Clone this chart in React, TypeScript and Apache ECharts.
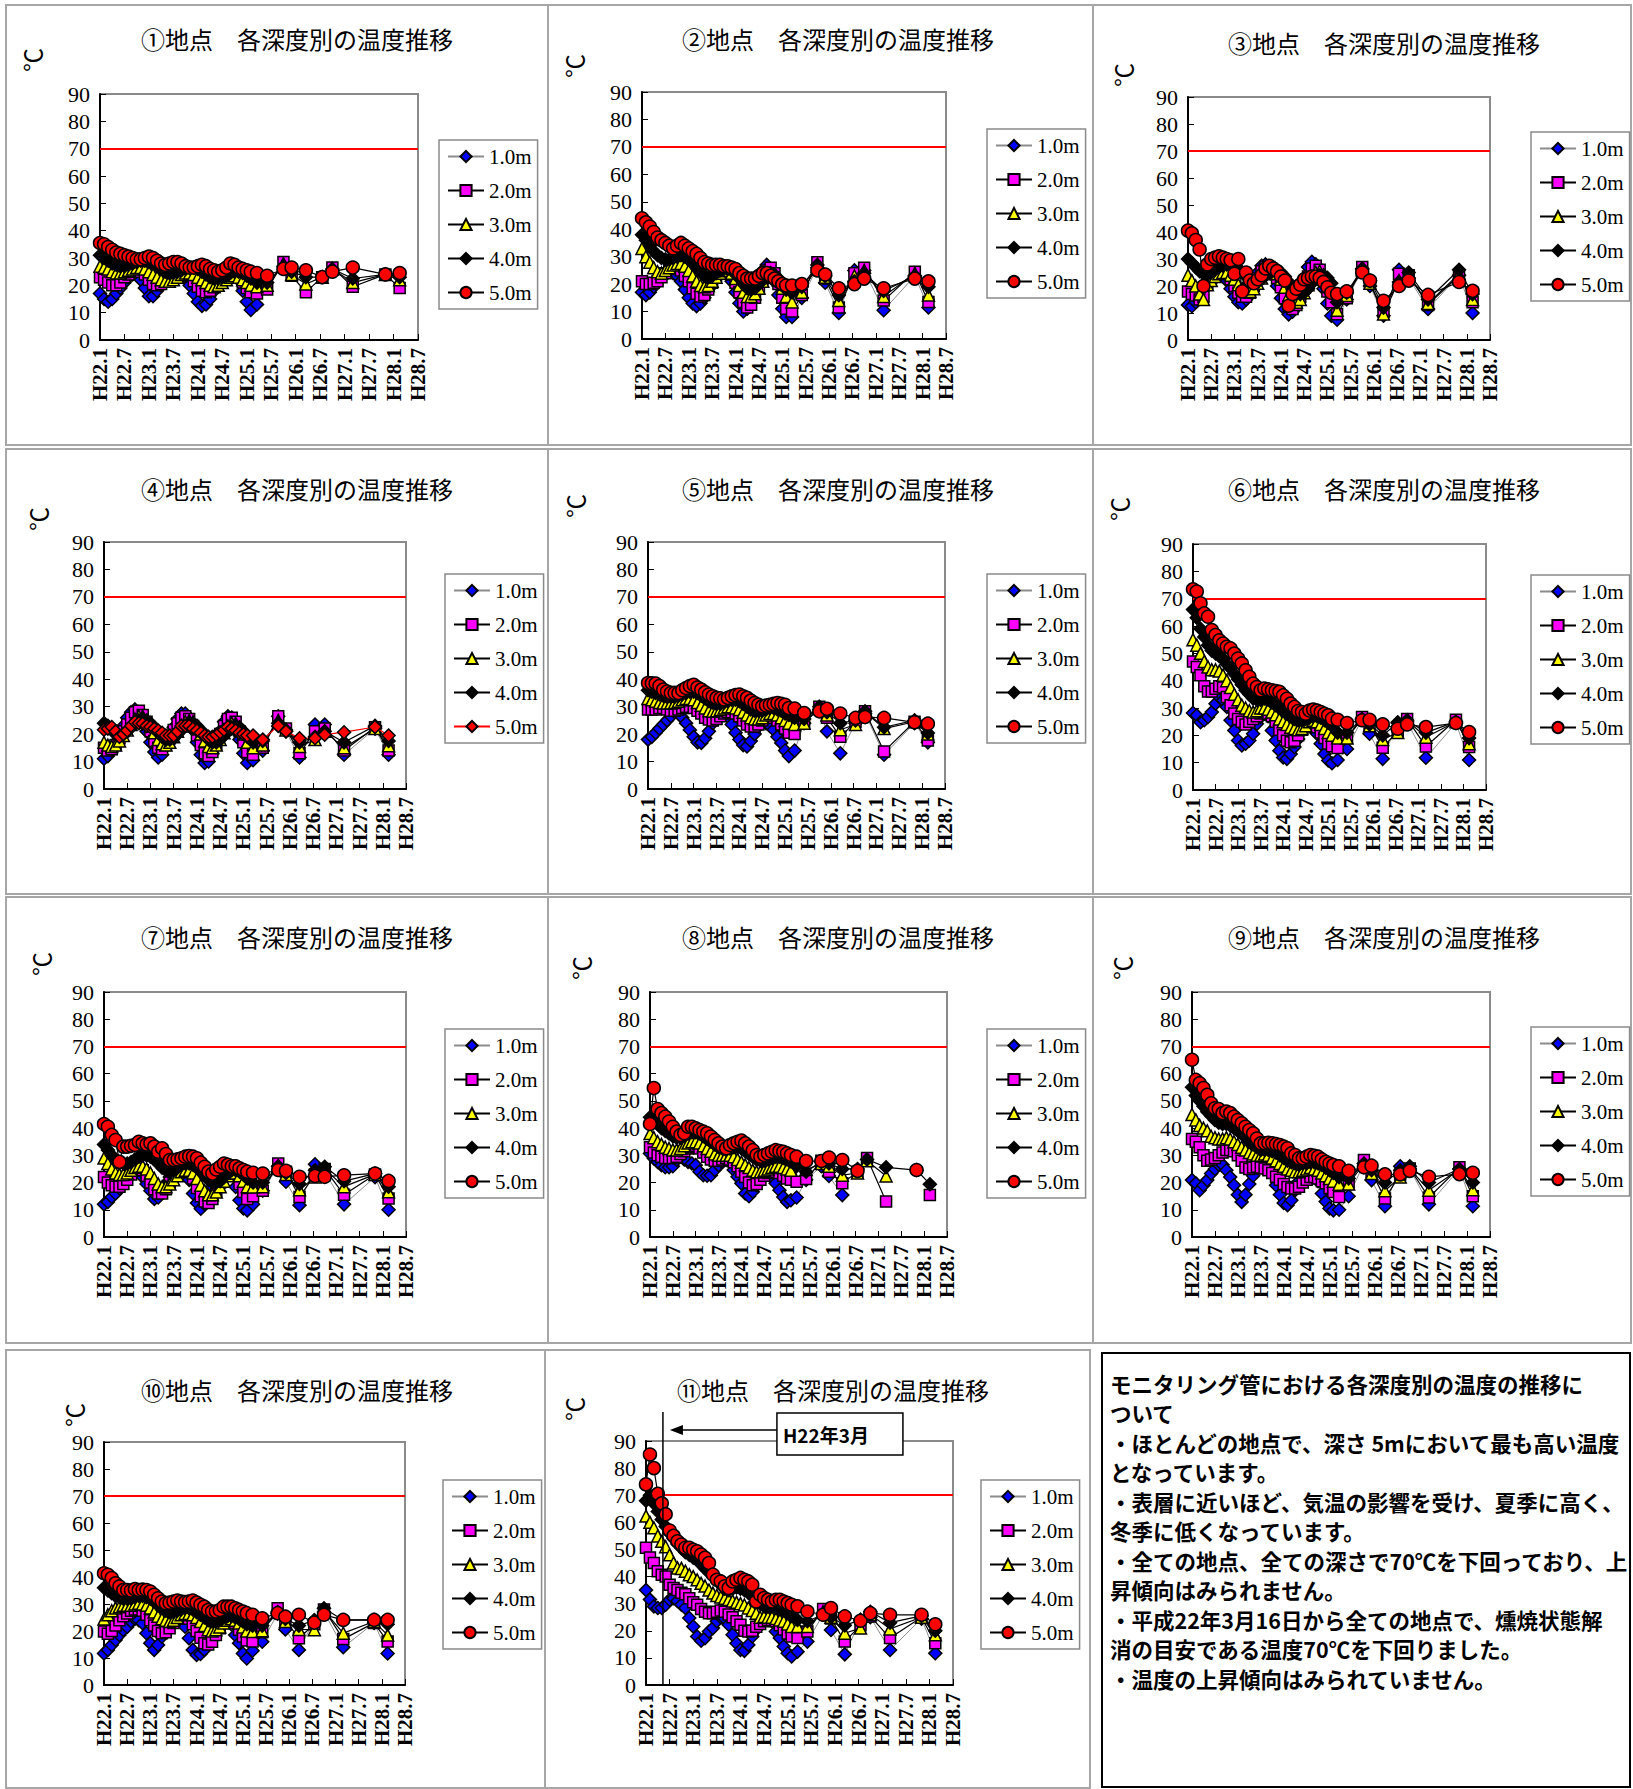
import React, { useEffect, useRef } from 'react';
import * as echarts from 'echarts';

const PAGE_W = 1633;
const PAGE_H = 1789;

const DEPTHS = ['1.0m', '2.0m', '3.0m', '4.0m', '5.0m'];
const X_TICK_LABELS = ['H22.1', 'H22.7', 'H23.1', 'H23.7', 'H24.1', 'H24.7', 'H25.1', 'H25.7', 'H26.1', 'H26.7', 'H27.1', 'H27.7', 'H28.1', 'H28.7'];
const X_TICK_STEP = 6;
const X_MAX = 78;
const Y_MAX = 90;
const Y_STEP = 10;
const THRESHOLD = 70;

// months after H22.1
const MONTHS_DENSE = [0, 1, 2, 3, 4, 5, 6, 7, 8, 9, 10, 11, 12, 13, 14, 15, 16, 17, 18, 19, 20, 21, 22, 23, 24, 25, 26, 27, 28, 29, 30, 31, 32, 33, 34, 35, 36, 37];
const MONTHS_SPARSE = [38.5, 41, 45, 47, 50.5, 54.5, 57, 62, 70, 73.5];

const PANEL_TITLES = [
  '①地点　各深度別の温度推移', '②地点　各深度別の温度推移', '③地点　各深度別の温度推移',
  '④地点　各深度別の温度推移', '⑤地点　各深度別の温度推移', '⑥地点　各深度別の温度推移',
  '⑦地点　各深度別の温度推移', '⑧地点　各深度別の温度推移', '⑨地点　各深度別の温度推移',
  '⑩地点　各深度別の温度推移', '⑪地点　各深度別の温度推移',
];
const UNIT_LABEL = '℃';
const ANNOTATION_MONTH = 4.3;
const ANNOTATION_TEXT = 'H22年3月';
const NOTE_LINES = [
  'モニタリング管における各深度別の温度の推移に',
  'ついて',
  '・ほとんどの地点で、深さ 5mにおいて最も高い温度',
  'となっています。',
  '・表層に近いほど、気温の影響を受け、夏季に高く、',
  '冬季に低くなっています。',
  '・全ての地点、全ての深さで70℃を下回っており、上',
  '昇傾向はみられません。',
  '・平成22年3月16日から全ての地点で、燻焼状態解',
  '消の目安である温度70℃を下回りました。',
  '・温度の上昇傾向はみられていません。',
];

// each panel: [1.0m, 2.0m, 3.0m, 4.0m, 5.0m]
const P01_DENSE = [
  [17, 15, 14, 15, 17, 19, 21, 23, 24, 24, 22, 19, 16, 16, 18, 20, 22, 24, 25, 26, 25, 23, 20, 17, 14, 12.5, 13, 15, 18, 21, 24, 26, 27, 25, 22, 18, 14, 11],
  [23, 22, 21, 20, 20, 21, 23, 24, 25, 25.5, 25, 24, 22, 20.5, 20, 20.5, 22, 23.5, 25, 26, 26, 25, 23.5, 21.5, 19.5, 18, 17.5, 18, 19.5, 21.5, 23, 24.5, 25, 24.5, 23, 21, 19, 17.5],
  [27, 26.5, 26, 25, 24.5, 24.5, 25, 25.5, 26, 26.5, 26.5, 26, 25, 24, 23, 22, 21.5, 21.5, 22, 23, 24, 24.5, 24.5, 24, 23, 22, 21, 20, 19.5, 20, 21, 22, 23, 23.5, 23, 22, 21, 20],
  [31, 30, 29, 28, 27.5, 27, 27, 27.5, 28, 28.5, 29, 29, 28.5, 28, 27, 26, 25, 24.5, 24.5, 25, 25.5, 26, 26.5, 26.5, 26, 25, 24, 23, 22.5, 22.5, 23, 23.5, 24.5, 25, 25, 24.5, 23.5, 22.5],
  [35.5, 35, 34, 33, 32, 31.5, 31, 30.5, 30, 29.5, 29.5, 30, 30.5, 30, 29, 28, 27.5, 28, 28.5, 28.5, 28, 27, 26.5, 26.5, 27, 27.5, 27, 26, 25.5, 25, 25.5, 26.5, 28, 27.5, 26.5, 26, 25.5, 25],
];
const P01_SPARSE = [
  [13, null, null, null, null, null, null, null, null, null],
  [17, 18.5, 28.5, 23.5, 17.5, 23, 26.5, 19.5, 24, 19],
  [19.5, 20, 28, 24, 20.5, 23, 26, 21, 24, 22],
  [21, 21, 27, 25, 23, 23, 26, 22.5, 24, 23],
  [24.5, 23.5, 26, 26.5, 25.5, 23, 25, 26.5, 24, 24.5],
];

const P02_DENSE = [
  [17, 16, 17, 19, 21, 23, 24, 24.5, 24, 23, 21, 18, 15, 13, 12, 13, 15, 18, 21, 24, 26, 26, 24, 21, 17, 13, 10, 11, 14, 18, 22, 25, 27, 25, 21, 16, 11, 8],
  [21, 20, 20, 20.5, 21, 22.5, 24, 25.5, 26, 26, 25, 23, 21, 18.5, 16.5, 15.5, 16, 18, 20.5, 23, 25, 26, 25.5, 23.5, 20.5, 17, 13.5, 11.5, 12.5, 15, 18.5, 22, 25, 26, 24, 20, 15, 11],
  [33, 30, 28, 26, 24.5, 24, 25, 26, 27, 27.5, 27.5, 26.5, 25, 23, 21, 19.5, 19, 19.5, 21, 22.5, 24, 25, 25, 24, 22, 19.5, 17, 15.5, 15.5, 16.5, 18.5, 21, 23, 24, 23.5, 21.5, 18.5, 15.5],
  [38, 36, 34, 32, 30.5, 29.5, 29, 29, 29.5, 30, 30.5, 30, 29, 27.5, 26, 24.5, 23, 22.5, 23, 24, 25, 25.5, 25.5, 25, 24, 22, 20, 18.5, 18, 18.5, 20, 22, 23.5, 24, 23.5, 22, 20, 18],
  [44, 42.5, 41, 39, 37, 36, 35, 34, 33, 34, 35, 34, 33, 32, 31, 29.5, 28, 27.5, 27, 27, 27, 26.5, 26.5, 26, 25.5, 24, 23, 22, 22, 22, 23, 24, 24, 23, 22, 21, 20, 19.5],
];
const P02_SPARSE = [
  [8, 15, 26, 20.5, 9.5, 25, 25, 10.5, 23, 11.5],
  [10, 16, 28, 22, 11.5, 24, 26, 14, 24.5, 13.5],
  [13.5, 17, 26.5, 22.5, 14, 23, 25, 15.5, 24, 16],
  [17, 19, 27, 23, 16, 21, 24, 17.5, 23, 19],
  [19.5, 20, 25, 23.5, 18.5, 20, 22, 18.5, 22, 21],
];

const P03_DENSE = [
  [13, 12.5, 14, 16.5, 19.5, 22, 24.5, 26, 26, 25, 22, 19, 16, 14, 13.5, 15, 18, 21.5, 25, 27.5, 28, 27, 24, 20, 15.5, 11.5, 9.5, 10.5, 14, 18.5, 23, 27, 29, 28, 24.5, 19, 13.5, 9],
  [18, 17, 16.5, 15, 16, 21, 23, 24.5, 25.5, 25.5, 24.5, 22.5, 20, 17.5, 16, 16, 17.5, 20, 23, 25.5, 27, 27, 25.5, 23, 19.5, 15.5, 12.5, 11.5, 13, 16, 20, 23.5, 26.5, 27.5, 26, 22.5, 18, 14],
  [24, 22, 20, 17, 15, 20.5, 22, 23.5, 24.5, 25, 25, 24, 22.5, 20.5, 19, 18, 18, 19, 21, 23, 24.5, 25.5, 25.5, 24.5, 22.5, 19.5, 16.5, 14.5, 14, 15, 17.5, 20.5, 23.5, 25, 25.5, 24, 21.5, 18],
  [30, 28.5, 27, 25.5, 24.5, 24.5, 25, 26, 27, 27.5, 28, 28, 27.5, 26.5, 25, 23.5, 22, 21.5, 21.5, 22.5, 24, 25, 26, 26, 25, 23.5, 21.5, 19, 17.5, 17, 17.5, 19, 21, 23, 24, 24, 23, 21],
  [40.5, 39.5, 37, 33.5, 20, 28, 30, 30.5, 31, 30.5, 30, 29.5, 24.5, 30, 18, 25, 22, 21, 22.5, 24, 26.5, 27.5, 26.5, 25.5, 23.5, 22, 12.7, 17, 19, 20.5, 22.5, 23, 23.5, 23.5, 23, 21.5, 19.5, 17.5],
];
const P03_SPARSE = [
  [7.5, 15, 26, 20, 9, 26, 23, 11.5, 24, 10],
  [9.5, 15.5, 27, 21, 10.5, 24.5, 24, 13, 24, 14],
  [11, 16.5, 26, 21, 9.6, 22, 24, 13.5, 24.5, 15],
  [14, 17.5, 26.5, 22, 12, 21.5, 25, 15, 26, 17],
  [17, 18, 25, 22, 14.5, 20, 22, 16.7, 21.5, 18.2],
];

const P04_DENSE = [
  [11, 12, 14, 17, 20, 23, 26, 28, 29, 28, 25, 21, 17, 13.5, 11.5, 12.5, 15.5, 19, 22.5, 25.5, 27.5, 27.5, 25, 21.5, 17, 12.5, 9.5, 10, 13, 17, 21, 24.5, 26.5, 26, 23, 18, 13, 9.5],
  [15, 14, 14.5, 16, 18.5, 21, 23.5, 26, 28, 28.5, 27, 24.5, 21, 17.5, 15, 14.5, 16, 18.5, 21.5, 24, 26, 26.5, 25.5, 23, 19.5, 16, 13, 12, 13.5, 16.5, 20, 23, 25.5, 26, 24.5, 21, 17, 13.5],
  [17, 16, 15.5, 16, 17.5, 19.5, 21.5, 23.5, 25.5, 26.5, 26.5, 25, 23, 20.5, 18, 16.5, 16, 17, 19, 21, 23, 24.5, 25, 24.5, 22.5, 20, 17.5, 15.5, 15, 16, 18, 20.5, 23, 24, 24, 22.5, 20, 17],
  [24, 23, 21.5, 20, 19.5, 20, 21, 22.5, 24, 25, 25.5, 25, 24, 22.5, 20.5, 19, 18, 18, 18.5, 20, 21.5, 23, 24, 24, 23, 21.5, 19.5, 18, 17, 17, 18, 19.5, 21.5, 22.5, 23, 22.5, 21, 19],
  [21.6, 22, 22.6, 21, 19, 20, 21.3, 23, 24.4, 24, 23.8, 23, 22.6, 22, 21.3, 20.5, 19.5, 19.5, 19.5, 21, 23, 23, 23, 22, 21.3, 20.5, 19.5, 19, 19, 19.8, 20.7, 21.6, 22.6, 22, 21.3, 20.5, 20, 19.5],
];
const P04_SPARSE = [
  [10.5, 14, 26.5, 21, 11.5, 23.5, 23.5, 12.5, 22, 12.5],
  [12.5, 15, 26.5, 22, 13, 21, 22, 14, 22.5, 14],
  [15, 16, 25, 21.5, 15.5, 18, 21, 15, 22, 15.8],
  [17, 17.5, 24, 21.5, 17, 19, 21, 17, 23, 17.5],
  [19.5, 18, 23, 21, 18.5, 18.5, 19.8, 20.7, 22.6, 19.5],
];

const P05_DENSE = [
  [18, 19, 20.5, 22, 23.5, 25, 26.5, 28, 28, 26, 24, 21.5, 19, 17, 16.8, 18.5, 21, 24, 27, 29, 29, 26.5, 23.5, 20.5, 18, 16, 15.5, 17.5, 20, 22.8, 24, 24, 23, 21.6, 19, 16.8, 14, 12],
  [29, 29, 29, 29.5, 29.5, 29, 28.5, 28.5, 29, 29.5, 30, 30, 29.5, 28.5, 27.5, 26, 25.3, 25, 25.5, 26.5, 27.5, 28, 28, 27.5, 26.5, 25, 23.5, 22.8, 22.8, 23.5, 25, 26, 26.5, 26, 25, 23.5, 22, 20.5],
  [33, 32.5, 32, 31.5, 31.3, 31.3, 31.3, 31.5, 32, 32.5, 33, 33, 32.5, 31.5, 30.5, 29.5, 28.5, 28.3, 28.5, 29, 29.5, 30, 30, 29.5, 29, 28, 27, 26, 25.5, 25.5, 26, 27, 27.5, 27.5, 27, 26, 25, 24],
  [36, 35.5, 35, 34.5, 34, 33.5, 33.5, 33.5, 34, 34.5, 35, 35.5, 35.5, 35, 34, 33, 32, 31.5, 31, 31, 31.5, 32, 32.5, 32.5, 32, 31, 30, 29, 28.5, 28.5, 28.5, 29, 29.5, 29.5, 29, 28.5, 27.5, 27],
  [38.6, 38.5, 38.4, 37.5, 36.2, 35.5, 35, 35, 35, 36, 36.8, 37.5, 38, 37, 36.2, 35.2, 34.4, 33.8, 33.2, 33, 32.6, 33.2, 33.8, 34.2, 34.4, 33.8, 33.2, 32.2, 31.3, 30.7, 30.1, 30.4, 30.7, 31, 31.3, 31, 30.7, 29.5],
];
const P05_SPARSE = [
  [14, 24, 29, 21, 13, 24, 27.5, 12.5, 24, 17],
  [20, 24, 30, 26, 19, 24.5, 28.3, 13.7, 24.5, 17.7],
  [23.5, 24, 29.5, 27, 21.6, 23.5, 28, 22, 24.5, 20],
  [26, 25.5, 30, 28, 24, 25, 28.3, 22.5, 25, 20.4],
  [29.3, 27.7, 28.3, 29.2, 27.5, 25.9, 26.2, 25.9, 24.3, 23.8],
];

const P06_DENSE = [
  [28.2, 27.3, 24.8, 25.5, 26.7, 28.5, 31.6, 34, 32.8, 30.4, 25.5, 21.8, 18.1, 16.3, 16.9, 18.1, 20.6, 24.2, 26.7, 27.9, 27, 21.8, 18.1, 14.4, 11.9, 11.4, 13.2, 15.7, 18.7, 21.8, 23.6, 24.2, 23, 20.6, 16.9, 13.2, 10.8, 9.8],
  [47, 45, 42, 38, 36, 36, 37, 38, 37.5, 34, 31, 28, 26, 25, 24, 25, 26, 27, 28, 28.5, 28, 27, 25, 22, 20, 18, 17.5, 18, 20, 22, 23, 24, 24, 23, 21, 19, 17, 16],
  [55, 53, 50, 47, 45, 44, 44, 43.5, 42, 40, 37.5, 35, 33, 31, 30, 29, 28.5, 29, 30, 30, 29.5, 28.5, 27.5, 26, 25, 24, 23, 22.5, 22, 22.5, 23.5, 25, 25.5, 25, 24, 22.5, 21, 20],
  [66, 63, 59, 56, 53, 51, 50, 49, 48, 46, 44.5, 42.5, 40.5, 38.5, 36.5, 35, 33.5, 33, 33, 33.5, 33, 32, 31, 30, 29, 28, 27, 26, 25.5, 25.5, 26, 26.5, 27, 27, 26.5, 25.5, 24.5, 23.5],
  [73.4, 72.6, 68.3, 64.6, 63.4, 58.5, 56.7, 54.8, 53.6, 52.4, 51.8, 49.9, 48.1, 46.3, 43.8, 41.4, 38.9, 37.7, 36.5, 37.1, 36.8, 36.5, 36.2, 35.9, 34.6, 33.4, 31.6, 30.4, 28.9, 28.5, 27.9, 29.1, 29.4, 29.1, 28.5, 27.9, 27.3, 26.1],
];
const P06_SPARSE = [
  [11, 15, 26, 20.6, 11.4, 24.8, 25, 11.8, 24.5, 11],
  [15.4, 19, 26.7, 24, 15.5, 21.5, 26, 15.9, 25.7, 15.7],
  [19, 19, 26, 23.5, 18.5, 21, 25.5, 19.3, 25, 16.9],
  [21, 21, 26, 24, 20, 24.5, 25.5, 21, 25, 19],
  [25.7, 24.5, 25.5, 25.7, 24, 22.4, 24, 23, 24.5, 21.2],
];

const P07_DENSE = [
  [12, 12.9, 14.7, 16, 17.8, 20, 22, 23.5, 24.5, 24, 22, 19.5, 17, 14, 14.5, 17, 19.5, 22, 24, 25.5, 26, 24, 21, 16, 12.5, 10.4, 12, 14.7, 18.5, 22, 24, 25.5, 25.5, 23, 18.4, 13.5, 10.5, 9.8],
  [22, 20, 19, 18.5, 18.5, 19.5, 21, 23, 24.5, 25, 24.5, 22.5, 20, 17.5, 16, 16, 17.5, 20, 22.5, 24.5, 25.5, 25.5, 24, 21.5, 18, 15, 13, 12.5, 14, 17, 20, 22.5, 24, 24, 22.5, 19.5, 16.5, 14],
  [29, 27, 25, 23.5, 23, 23, 23.5, 24.5, 25.5, 26, 26, 25, 23.5, 21.5, 19.5, 18.5, 18.5, 19.5, 21, 22.5, 24, 24.5, 24.5, 23.5, 21.5, 19, 17, 15.5, 15.5, 16.5, 18.5, 20.5, 22.5, 23.5, 23.5, 22.5, 20.5, 18.5],
  [34, 32, 30, 28.5, 27.5, 27, 27, 27.5, 28.5, 29.5, 30, 30, 29.5, 28.5, 27, 25.5, 24.5, 24, 24.5, 25.5, 26.5, 27, 27, 26.5, 25.5, 24, 22.5, 21, 20, 20, 20.5, 22, 23.5, 24.5, 24.5, 24, 23, 21.5],
  [41.5, 40.5, 37.5, 35.6, 27.6, 33.2, 33.2, 33.5, 33.8, 35, 34.4, 34, 34.4, 33.2, 31.3, 32.6, 30.5, 28.3, 28.3, 28.5, 28.9, 29.5, 29.7, 29.5, 28.9, 27.3, 25.8, 24, 23.3, 24.8, 25.8, 27, 26.5, 26, 26, 25.2, 24.6, 24],
];
const P07_SPARSE = [
  [12, 17, 26, 20.3, 11.7, 26.7, 24, 12, 22, 10],
  [15, 17, 27, 24, 14.7, 23, 25, 15.5, 23, 14.1],
  [18.4, 18.5, 26, 23, 17.4, 22, 25, 18.5, 23, 16.6],
  [20, 20, 26, 23.5, 19.5, 24.5, 25.8, 20.5, 23.3, 18.5],
  [23.6, 23.3, 24.6, 24.3, 22.1, 22.4, 22.1, 22.7, 23.3, 20.6],
];

const P08_DENSE = [
  [30.7, 28.9, 27.6, 26.4, 25.6, 25.6, 26, 28.3, 29.5, 28.5, 27.6, 27, 26.4, 24, 22.7, 22.5, 22.7, 24.6, 26.4, 27.5, 28.3, 27.5, 24.6, 22.1, 19.7, 16, 15, 16.6, 19, 21.5, 23.3, 24, 22.1, 19.7, 17.2, 14.7, 12.9, 13.5],
  [33, 31, 30, 29.5, 29, 29, 29, 29.5, 30.5, 31.5, 32.5, 33, 33.5, 32.5, 31, 29.5, 28.5, 28, 28, 28.5, 29, 28.5, 27.5, 26, 24, 22, 20, 19, 19.5, 21, 22.5, 23.5, 24, 24, 23.5, 22.5, 21.5, 21],
  [38, 36.5, 35, 34, 33, 32.5, 32, 32, 32.5, 33.5, 34.5, 35, 35, 34.5, 33.5, 32.5, 31.5, 30.5, 30, 30, 30, 30, 29.5, 28.5, 27.5, 26.5, 25.5, 24.5, 24, 24, 24.5, 25, 25.5, 26, 26, 25.5, 25, 24.5],
  [44, 43, 41.5, 40, 39, 38, 37, 36.5, 36.5, 37, 38, 38.5, 38.5, 38, 37, 36, 35, 34, 33, 32.5, 32, 32.5, 33, 33, 32.5, 31.5, 30.5, 29.5, 28.5, 28, 28, 28.5, 29, 29.5, 29.5, 29, 28.5, 28],
  [41.5, 54.7, 47, 45.5, 44.2, 42.4, 40.5, 38.7, 37.5, 38.1, 40.5, 40.5, 39.9, 39.3, 38.7, 38.1, 36.9, 35.6, 34.4, 33.2, 32.6, 33.8, 34.4, 35, 35.4, 34.4, 33.2, 31.9, 30.1, 29.5, 30.1, 30.7, 31.3, 31.9, 31.6, 31.3, 30.7, 30.1],
];
const P08_SPARSE = [
  [14.5, 21, 26, 22.4, 15.4, null, null, null, null, null],
  [20.3, 21.3, 28, 24, 19.7, 24, 29, 13, null, 15.4],
  [27.6, 24.8, 27, 26, 22.7, 23.5, 28, 22.4, null, null],
  [26, 24, 27.6, 27, 25, 25, 28.5, 25.6, 24.6, 19.4],
  [29.5, 27.9, 27.9, 29.2, 28.3, 24.3, null, null, 24.6, null],
];

const P09_DENSE = [
  [20.9, 19.7, 17.2, 19, 20.9, 23.3, 25, 26.5, 26.5, 24.5, 22, 19, 15.5, 12.9, 15.5, 19.5, 22.5, 25.5, 27, 27, 25.5, 23.3, 19, 15.5, 12.5, 11.7, 13.5, 17.2, 20.5, 23, 24.5, 24.5, 23, 20.5, 16, 13, 10.5, 9.8],
  [36, 35, 33, 30, 28, 28.5, 29, 30, 31, 32, 32, 31.5, 30, 28, 25.5, 25, 25.5, 25.8, 25.5, 25.2, 24.5, 23.5, 22.1, 21, 19.5, 18.4, 17.8, 17.8, 18.5, 20, 21, 22, 22, 21.5, 20.5, 19.7, 18, 16.5],
  [45, 43, 41, 40, 39, 37, 36.5, 36, 36, 36.5, 36, 35, 34, 33, 32, 31, 30.5, 30, 30, 30.5, 30, 29, 28, 27, 26, 25, 24.5, 24, 24, 24.5, 25, 25.5, 25, 24.5, 23.5, 22.5, 21.5, 20.5],
  [55, 52, 50, 48, 46, 44.5, 43, 42, 41.5, 41.5, 41, 40, 39, 38, 36.5, 35, 34, 33, 32, 32, 32, 31.5, 31, 30, 29, 28, 27.5, 27, 26.5, 27, 27, 27.5, 27.5, 27, 26.5, 25.5, 24.5, 23.5],
  [65.1, 57.7, 56.5, 54.7, 52.2, 49.1, 47.3, 47, 45.5, 46.1, 45.5, 44.2, 43, 41.8, 40.5, 39.3, 38.1, 36.2, 34.4, 34.4, 34.6, 34.4, 34.1, 33.8, 33.2, 32.6, 30.7, 30.1, 28.9, 28.9, 29.5, 30.1, 29.8, 29.5, 28.5, 27.6, 27, 26.4],
];
const P09_SPARSE = [
  [10, 15, 27, 20.9, 11.3, 26, 25, 12, 25, 11.3],
  [14.7, 20, 28.3, 24, 14.1, 23, 25.2, 14.5, 25.6, 15],
  [19.4, 19.5, 27, 23.3, 17, 22, 25, 17.2, 25, 17.4],
  [22, 21.5, 27, 24.5, 20, 24.5, 26, 20, 25, 20],
  [26, 24.3, 25.6, 26.2, 23, 23, 24.3, 22.1, 23.1, 23.6],
];

const P10_DENSE = [
  [11.7, 13, 14.8, 16.7, 18.5, 20.4, 21.5, 23.5, 24.5, 24, 22.9, 19.2, 15.5, 13, 14.8, 17.9, 20.5, 22.5, 24.5, 25, 24, 21.6, 17.3, 13, 11.1, 11.5, 13, 16.1, 19.5, 22, 24, 25, 24.5, 22.5, 18.5, 15.5, 11.7, 9.8],
  [19.8, 19, 20, 22, 24, 25.5, 26.5, 27.5, 28, 28, 27.5, 26, 24, 22, 20, 19.2, 19.5, 21, 23, 24.5, 25.5, 25.5, 24.5, 22.5, 20, 17.5, 15.5, 15, 16, 18.5, 21, 23, 24.5, 24.5, 23, 20.5, 18, 16.5],
  [24.4, 26, 27.5, 28.5, 29, 29.5, 29.5, 29.5, 30, 30.3, 30, 29.5, 28.5, 27, 25.5, 24.5, 24, 23.5, 24, 25, 26, 26.5, 26.5, 26, 25, 23.5, 22, 20.5, 20, 20.5, 21.5, 23, 24, 24.5, 24, 23, 21.5, 20],
  [36, 35, 34, 33, 32.5, 32, 32, 32, 32.5, 33, 33, 32.5, 32, 31, 29.5, 28.5, 27.5, 27, 27, 27.5, 28, 28.5, 28.5, 28, 27, 26, 25, 24, 23.5, 23.5, 24, 25, 25.5, 25.5, 25, 24.5, 23.5, 22.5],
  [41.4, 40.8, 39.6, 37.7, 36.5, 35.2, 35.2, 35, 35.5, 35.2, 35.3, 35.2, 34.6, 33.4, 32.1, 30.9, 30.3, 30.5, 30.9, 31.3, 30.9, 30.7, 30.9, 31.3, 30.5, 29.7, 29, 27.8, 27.2, 27.2, 27.8, 29, 29, 29, 28.4, 27.8, 27.2, 26.6],
];
const P10_SPARSE = [
  [12.7, 16, 26.5, 20.6, 13, 24, 27, 14, 23, 11.7],
  [16.1, 19.5, 28.4, 24, 17.3, 22.5, 28, 17, 23, 16.1],
  [19.8, 20.1, 27, 23.5, 20.6, 20.5, 27.5, 19.2, 23.5, 18.5],
  [22, 22, 27, 24.5, 22, 24, 28.4, 24, 24.1, 22.5],
  [26, 24.7, 26.6, 25.3, 26, 23.1, 26, 24.1, 24.1, 24.1],
];

const P11_DENSE = [
  [35, 31.5, 29, 28.4, 28.4, 29.6, 31.4, 32, 31, 29.6, 28.4, 24.7, 21.6, 17.9, 16.3, 17.3, 19.7, 21, 23.5, 25, 24.5, 22.2, 18.5, 15.4, 12.9, 12.6, 14.8, 17.9, 20.5, 23, 24.5, 25, 23.5, 19.7, 17.3, 14.2, 11.7, 10.5],
  [50.6, 47, 45, 42, 40.7, 40, 37, 35.8, 35, 34, 33.5, 32, 30.5, 29.6, 28, 27, 26.5, 26.5, 27, 27.5, 27, 26, 25, 23.5, 22.2, 20, 19.7, 20, 21.5, 22.5, 23.5, 24, 24, 23.5, 22, 20.5, 19, 17.9],
  [62.3, 60, 58, 55, 53, 51, 48, 45, 43.2, 43, 42, 40.7, 40, 38.8, 37.5, 36.5, 35, 33.9, 33, 32.5, 32, 31.5, 31, 30.5, 30, 29.5, 28.4, 27.5, 26.5, 25, 25.3, 25, 25, 24.5, 24, 23.5, 22.5, 21.6],
  [68, 70, 67, 64, 61, 58.5, 56, 54, 52, 50.5, 49, 48, 47, 46, 44.5, 43, 41.5, 40, 38.5, 37, 35.5, 35, 35.5, 36, 35.5, 35, 34, 33, 31.5, 30, 29, 29, 29, 28.5, 28, 27.5, 26.5, 25.5],
  [74, 85, 80, 70.5, 67, 63, 57, 55, 53, 51.8, 50.6, 50.6, 49.9, 49.3, 48.1, 46.9, 45, 40.7, 38.8, 38.2, 36.4, 35.8, 38.2, 38.8, 39.5, 38.8, 38.2, 37, 30.8, 33.3, 32.1, 31.4, 30.8, 31.4, 31.4, 30.8, 30.2, 29.6],
];
const P11_SPARSE = [
  [12.3, 16, 26, 20.3, 11.3, 24, 25, 12.9, 24.5, 11.7],
  [17.3, 19.7, 28, 24.5, 16, 22, 25.3, 17.3, 25, 15.4],
  [21.6, 21.6, 27, 25, 19.1, 21, 26, 20.7, 25, 18.5],
  [24, 23.5, 26, 25, 22, 24, 27, 23, 25.5, 20],
  [29, 27.1, 25.9, 28.4, 25.3, 23.7, 26.5, 25.9, 25.9, 22.4],
];

const PANEL_DATA = [
  [P01_DENSE, P01_SPARSE], [P02_DENSE, P02_SPARSE], [P03_DENSE, P03_SPARSE],
  [P04_DENSE, P04_SPARSE], [P05_DENSE, P05_SPARSE], [P06_DENSE, P06_SPARSE],
  [P07_DENSE, P07_SPARSE], [P08_DENSE, P08_SPARSE], [P09_DENSE, P09_SPARSE],
  [P10_DENSE, P10_SPARSE], [P11_DENSE, P11_SPARSE],
];

// ---------- layout & style (pixels) ----------
type Layout = { cell: number[]; grid: number[]; legend: number[]; title: number[]; unit: number[] };
const LAYOUT: Layout[] = [
  { cell: [6, 5, 542, 440], grid: [100, 94, 418, 340], legend: [439, 140], title: [297, 38], unit: [31, 60] },
  { cell: [548, 5, 545, 440], grid: [642, 92, 946, 339], legend: [987, 129], title: [838, 38], unit: [573, 66] },
  { cell: [1093, 5, 538, 440], grid: [1188, 97, 1490, 340], legend: [1531, 132], title: [1384, 42], unit: [1122, 75] },
  { cell: [6, 449, 542, 445], grid: [104, 542, 406, 789], legend: [445, 574], title: [297, 488], unit: [37, 519] },
  { cell: [548, 449, 545, 445], grid: [648, 542, 945, 789], legend: [987, 574], title: [838, 488], unit: [574, 506] },
  { cell: [1093, 449, 538, 445], grid: [1193, 544, 1486, 790], legend: [1531, 575], title: [1384, 488], unit: [1118, 509] },
  { cell: [6, 897, 542, 446], grid: [104, 992, 406, 1237], legend: [445, 1029], title: [297, 936], unit: [40, 964] },
  { cell: [548, 897, 545, 446], grid: [650, 992, 947, 1237], legend: [987, 1029], title: [838, 936], unit: [580, 968] },
  { cell: [1093, 897, 538, 446], grid: [1192, 992, 1490, 1237], legend: [1531, 1027], title: [1384, 936], unit: [1121, 968] },
  { cell: [6, 1350, 539, 438], grid: [104, 1442, 405, 1685], legend: [443, 1480], title: [297, 1389], unit: [73, 1415] },
  { cell: [545, 1350, 545, 438], grid: [646, 1441, 953, 1685], legend: [981, 1480], title: [833, 1389], unit: [573, 1409] },
];
const NOTE_BOX = [1102, 1353, 528, 434];

const MARKERS = [
  { symbol: 'diamond', size: 13, fill: '#0000ff', line: '#8c8c8c', lineWidth: 1 },
  { symbol: 'rect', size: 11, fill: '#ff00ff', line: '#000000', lineWidth: 1.2 },
  { symbol: 'triangle', size: 12, fill: '#ffff00', line: '#000000', lineWidth: 1.2 },
  { symbol: 'diamond', size: 13, fill: '#000000', line: '#000000', lineWidth: 1.2 },
  { symbol: 'circle', size: 13, fill: '#ff0000', line: '#000000', lineWidth: 1.2 },
];
const SERIF = '"Liberation Serif", "Times New Roman", serif';
const JP = '"Noto Sans CJK JP", "Noto Sans", sans-serif';

function buildPoints(dense: (number | null)[], sparse: (number | null)[]) {
  const pts: (number | string)[][] = [];
  MONTHS_DENSE.forEach((m, i) => {
    if (i < dense.length) pts.push([m, dense[i] == null ? '-' : (dense[i] as number)]);
  });
  MONTHS_SPARSE.forEach((m, i) => {
    if (i < sparse.length) pts.push([m, sparse[i] == null ? '-' : (sparse[i] as number)]);
  });
  return pts;
}

function buildOption() {
  const grid: any[] = [];
  const xAxis: any[] = [];
  const yAxis: any[] = [];
  const legend: any[] = [];
  const series: any[] = [];

  LAYOUT.forEach((lay, p) => {
    const [gl, gt, gr, gb] = lay.grid;
    grid.push({
      left: gl, top: gt, width: gr - gl, height: gb - gt,
      show: true, borderColor: '#8a8a8a', borderWidth: 2, backgroundColor: 'transparent',
    });
    xAxis.push({
      type: 'value', gridIndex: p, min: 0, max: X_MAX, interval: X_TICK_STEP,
      axisLine: { show: true, onZero: false, lineStyle: { color: '#000', width: 2 } },
      axisTick: { show: true, inside: true, length: 6, lineStyle: { color: '#000', width: 1 } },
      axisLabel: {
        rotate: 90, margin: 8, fontFamily: SERIF, fontSize: 21, fontWeight: 'bold', color: '#000',
        formatter: (v: number) => X_TICK_LABELS[Math.round(v / X_TICK_STEP)] ?? '',
      },
      splitLine: { show: false },
    });
    yAxis.push({
      type: 'value', gridIndex: p, min: 0, max: Y_MAX, interval: Y_STEP,
      axisLine: { show: true, onZero: false, lineStyle: { color: '#000', width: 2 } },
      axisTick: { show: true, inside: true, length: 6, lineStyle: { color: '#000', width: 1 } },
      axisLabel: { margin: 10, fontFamily: SERIF, fontSize: 22, color: '#000' },
      splitLine: { show: false },
    });
    legend.push({
      orient: 'vertical', left: lay.legend[0], top: lay.legend[1],
      data: DEPTHS.map((d) => `p${p}|${d}`),
      formatter: (n: string) => n.split('|')[1],
      itemWidth: 36, itemHeight: 14, itemGap: 13,
      padding: [6, 6, 6, 8],
      borderColor: '#8a8a8a', borderWidth: 1.5, backgroundColor: '#fff',
      textStyle: { fontFamily: SERIF, fontSize: 21, color: '#000', lineHeight: 20 },
    });

    const [dense, sparse] = PANEL_DATA[p];
    DEPTHS.forEach((depth, d) => {
      const mk = MARKERS[d];
      const diamondRed = p === 3 && d === 4;
      const s: any = {
        type: 'line', name: `p${p}|${depth}`, xAxisIndex: p, yAxisIndex: p,
        data: buildPoints(dense[d], sparse[d]),
        symbol: diamondRed ? 'diamond' : mk.symbol,
        symbolSize: mk.size,
        showAllSymbol: true,
        itemStyle: { color: mk.fill, borderColor: '#000', borderWidth: 1.5 },
        lineStyle: { color: diamondRed ? '#ff0000' : mk.line, width: mk.lineWidth },
        emphasis: { disabled: true },
        z: 2 + d,
      };
      if (d === 4) {
        s.markLine = {
          silent: true, symbol: 'none', label: { show: false },
          lineStyle: { color: '#ff0000', width: 2, type: 'solid' },
          data: [{ yAxis: THRESHOLD }],
        };
      }
      series.push(s);
    });
  });

  return { animation: false, backgroundColor: '#ffffff', grid, xAxis, yAxis, legend, series };
}

function buildGraphics(annX: number, annTop: number, annBottom: number) {
  const els: any[] = [];
  LAYOUT.forEach((lay, p) => {
    const [x, y, w, h] = lay.cell;
    els.push({ type: 'rect', shape: { x, y, width: w, height: h }, style: { fill: 'none', stroke: '#a6a6a6', lineWidth: 2 }, silent: true });
    els.push({
      type: 'text', x: lay.title[0], y: lay.title[1], silent: true,
      style: { text: PANEL_TITLES[p], fontFamily: JP, fontSize: 24, fill: '#000', align: 'center', verticalAlign: 'middle' },
    });
    els.push({
      type: 'text', x: lay.unit[0], y: lay.unit[1], rotation: Math.PI / 2, silent: true,
      style: { text: UNIT_LABEL, fontFamily: JP, fontSize: 24, fill: '#000', align: 'center', verticalAlign: 'middle' },
    });
  });

  const [bx, by, bw, bh] = NOTE_BOX;
  els.push({ type: 'rect', shape: { x: bx, y: by, width: bw, height: bh }, style: { fill: '#fff', stroke: '#000', lineWidth: 2 }, silent: true });
  NOTE_LINES.forEach((t, i) => {
    els.push({
      type: 'text', x: bx + 8, y: by + 30 + i * 29.5, silent: true,
      style: { text: t, fontFamily: JP, fontWeight: 'bold', fontSize: 21.5, fill: '#000', align: 'left', verticalAlign: 'middle' },
    });
  });

  // annotation on panel 11
  const boxLeft = annX + 114;
  const boxTop = annTop + 1;
  const arrowY = boxTop + 17;
  els.push({ type: 'line', z: 100, shape: { x1: annX, y1: annTop, x2: annX, y2: annBottom }, style: { stroke: '#000', lineWidth: 1.5 }, silent: true });
  els.push({ type: 'line', z: 100, shape: { x1: boxLeft, y1: arrowY, x2: annX + 18, y2: arrowY }, style: { stroke: '#000', lineWidth: 1.5 }, silent: true });
  els.push({ type: 'polygon', z: 100, shape: { points: [[annX + 7, arrowY], [annX + 20, arrowY - 5], [annX + 20, arrowY + 5]] }, style: { fill: '#000' }, silent: true });
  els.push({ type: 'rect', z: 100, shape: { x: boxLeft, y: boxTop, width: 126, height: 42 }, style: { fill: '#fff', stroke: '#000', lineWidth: 1.5 }, silent: true });
  els.push({
    type: 'text', z: 101, x: boxLeft + 6, y: boxTop + 21, silent: true,
    style: { text: ANNOTATION_TEXT, fontFamily: JP, fontWeight: 'bold', fontSize: 19, fill: '#000', align: 'left', verticalAlign: 'middle' },
  });
  return els;
}

export default function App() {
  const ref = useRef<HTMLDivElement>(null);
  useEffect(() => {
    if (!ref.current) return;
    const chart = echarts.init(ref.current, undefined, { renderer: 'svg', width: PAGE_W, height: PAGE_H });
    chart.setOption(buildOption());
    const annX = chart.convertToPixel({ xAxisIndex: 10 }, ANNOTATION_MONTH) as number;
    const topY = chart.convertToPixel({ yAxisIndex: 10 }, Y_MAX) as number;
    const botY = chart.convertToPixel({ yAxisIndex: 10 }, 0) as number;
    chart.setOption({ graphic: [{ elements: buildGraphics(annX, topY - 29, botY) }] });
    return () => chart.dispose();
  }, []);
  return (
    <div
      ref={ref}
      style={{ position: 'absolute', left: 0, top: 0, width: PAGE_W, height: PAGE_H, background: '#fff' }}
    />
  );
}
